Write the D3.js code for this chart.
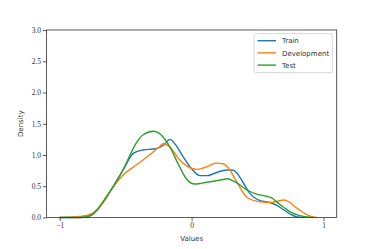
<!DOCTYPE html>
<html lang="en">
<head>
<meta charset="utf-8">
<title>Density</title>
<script src="https://d3js.org/d3.v7.min.js"></script>
<style>
  body { margin: 0; background: #fff; }
</style>
</head>
<body>
<script>
// data
var xTicks = [-1, 0, 1];
var yTicks = [0, 0.5, 1, 1.5, 2, 2.5, 3];
var seriesNames = ["Train", "Development", "Test"];
var colors = ["#1f77b4", "#ff7f0e", "#2ca02c"];

var trainX = [-1.0, -0.88, -0.82, -0.78, -0.74, -0.70, -0.65, -0.60, -0.52, -0.44, -0.37, -0.27, -0.21, -0.165, -0.12, -0.064, 0.0, 0.063, 0.12, 0.165, 0.22, 0.27, 0.31, 0.34, 0.39, 0.44, 0.52, 0.595, 0.65, 0.70, 0.75, 0.80, 0.85];
var trainY = [0.0, 0.0, 0.004, 0.02, 0.07, 0.16, 0.31, 0.48, 0.76, 1.03, 1.08, 1.10, 1.16, 1.25, 1.16, 0.97, 0.78, 0.67, 0.67, 0.70, 0.74, 0.76, 0.76, 0.72, 0.56, 0.39, 0.27, 0.24, 0.19, 0.12, 0.05, 0.01, 0.0];

var devX = [-1.0, -0.9, -0.82, -0.77, -0.73, -0.70, -0.65, -0.60, -0.52, -0.42, -0.32, -0.25, -0.215, -0.16, -0.09, 0.01, 0.04, 0.10, 0.19, 0.24, 0.28, 0.32, 0.37, 0.42, 0.52, 0.595, 0.65, 0.70, 0.745, 0.78, 0.82, 0.87, 0.92, 0.95];
var devY = [0.0, 0.01, 0.025, 0.05, 0.10, 0.16, 0.30, 0.47, 0.68, 0.84, 1.0, 1.12, 1.18, 1.12, 0.92, 0.78, 0.77, 0.80, 0.87, 0.86, 0.79, 0.65, 0.47, 0.32, 0.25, 0.24, 0.26, 0.28, 0.24, 0.18, 0.12, 0.05, 0.01, 0.0];

var testX = [-1.0, -0.88, -0.82, -0.78, -0.74, -0.70, -0.65, -0.595, -0.52, -0.42, -0.37, -0.29, -0.23, -0.165, -0.10, -0.04, 0.025, 0.08, 0.165, 0.22, 0.27, 0.33, 0.42, 0.50, 0.57, 0.61, 0.645, 0.70, 0.746, 0.82, 0.92];
var testY = [0.0, 0.0, 0.005, 0.02, 0.07, 0.17, 0.32, 0.49, 0.76, 1.19, 1.32, 1.38, 1.32, 1.13, 0.85, 0.62, 0.535, 0.55, 0.58, 0.60, 0.62, 0.57, 0.44, 0.37, 0.34, 0.31, 0.25, 0.16, 0.09, 0.03, 0.0];

var xs = [trainX, devX, testX];
var ys = [trainY, devY, testY];

// layout
var w = 374, h = 249;
var padL = 46.5, padR = 336.7, padT = 30, padB = 217.5;

var svg = d3.select("body").append("svg")
    .attr("width", w)
    .attr("height", h);

var x = d3.scaleLinear().domain([-1.1, 1.1]).range([padL, padR]);
var y = d3.scaleLinear().domain([0, 3]).range([padB, padT]);

var line = d3.line()
    .x(function(d) { return x(d[0]); })
    .y(function(d) { return y(d[1]); })
    .curve(d3.curveMonotoneX);

// curves
seriesNames.forEach(function(name, i) {
    var pts = xs[i].map(function(v, j) { return [v, ys[i][j]]; });
    svg.append("path")
        .datum(pts)
        .attr("fill", "none")
        .attr("stroke", colors[i])
        .attr("stroke-width", 1.4)
        .attr("d", line);
});

// axes
var xAxis = svg.append("g")
    .attr("transform", "translate(0," + padB + ")")
    .call(d3.axisBottom(x).tickValues(xTicks).tickSize(3.5).tickPadding(2)
        .tickFormat(function(d) { return d3.format("d")(d); }));
var yAxis = svg.append("g")
    .attr("transform", "translate(" + padL + ",0)")
    .call(d3.axisLeft(y).tickValues(yTicks).tickSize(3.5).tickPadding(2)
        .tickFormat(d3.format(".1f")));

[xAxis, yAxis].forEach(function(g) {
    g.select(".domain").remove();
    g.selectAll(".tick line").attr("stroke", "#333").attr("stroke-width", 0.8);
    g.selectAll(".tick text")
        .attr("fill", "#333")
        .style("font-family", "'Liberation Serif', 'DejaVu Serif', serif")
        .style("font-size", "7.5px");
});

// frame
svg.append("rect")
    .attr("x", padL).attr("y", padT)
    .attr("width", padR - padL).attr("height", padB - padT)
    .attr("fill", "none")
    .attr("stroke", "#333")
    .attr("stroke-width", 0.8);

// axis labels
svg.append("text")
    .attr("x", (padL + padR) / 2)
    .attr("y", 240.5)
    .attr("text-anchor", "middle")
    .style("font-family", "'DejaVu Sans', sans-serif")
    .style("font-size", "7px")
    .attr("fill", "#333")
    .text("Values");

svg.append("text")
    .attr("transform", "translate(23," + ((padT + padB) / 2) + ") rotate(-90)")
    .attr("text-anchor", "middle")
    .style("font-family", "'DejaVu Sans', sans-serif")
    .style("font-size", "7px")
    .attr("fill", "#333")
    .text("Density");

// legend
var legend = svg.append("g");
legend.append("rect")
    .attr("x", 254).attr("y", 33.7)
    .attr("width", 78.3).attr("height", 39)
    .attr("rx", 1.5)
    .attr("fill", "#fff")
    .attr("fill-opacity", 0.8)
    .attr("stroke", "#ccc")
    .attr("stroke-width", 0.8);

seriesNames.forEach(function(name, i) {
    var ly = 40.7 + i * 12.2;
    legend.append("line")
        .attr("x1", 257.5).attr("x2", 276)
        .attr("y1", ly).attr("y2", ly)
        .attr("stroke", colors[i])
        .attr("stroke-width", 1.4);
    legend.append("text")
        .attr("x", 282)
        .attr("y", ly + 2.6)
        .style("font-family", "'DejaVu Sans', sans-serif")
        .style("font-size", "7px")
        .attr("fill", "#333")
        .text(name);
});
</script>
</body>
</html>
